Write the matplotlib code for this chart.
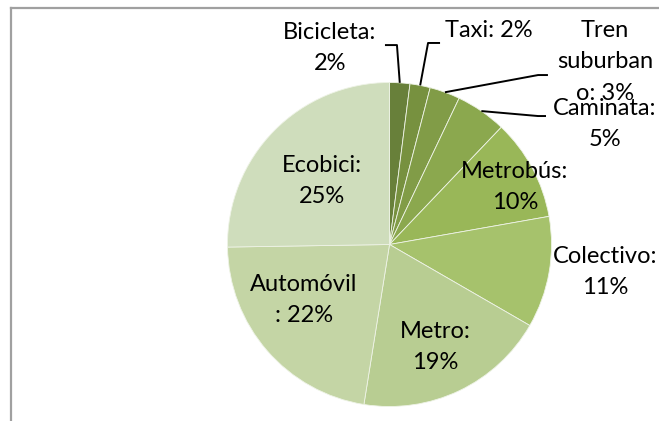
import matplotlib
matplotlib.use("Agg")
import matplotlib.pyplot as plt
from matplotlib.lines import Line2D
import numpy as np

# ---- data ----
categories = ["Bicicleta", "Taxi", "Tren suburbano", "Caminata", "Metrobús",
              "Colectivo", "Metro", "Automóvil", "Ecobici"]
values = [2, 2, 3, 5, 10, 11, 19, 22, 25]
label_texts = ["Bicicleta:\n2%", "Taxi: 2%", "Tren\nsuburban\no: 3%", "Caminata:\n5%",
               "Metrobús:\n10%", "Colectivo:\n11%", "Metro:\n19%", "Automóvil\n: 22%",
               "Ecobici:\n25%"]

# ---- style / layout ----
colors = ["#68803a", "#77913f", "#819c47", "#8ba84e", "#99b758",
          "#a6c26c", "#b8cd92", "#c4d5a5", "#cfddbc"]
# label centres in pie-radius units relative to the pie centre
label_pos = [(-0.367, 1.213), (0.614, 1.324), (1.330, 1.127), (1.330, 0.744),
             (0.775, 0.355), (1.330, -0.170), (0.281, -0.633), (-0.528, -0.343),
             (-0.417, 0.392)]
# leader line elbows (knee, end) for outside labels; None for inside labels
leaders = [((0.046, 1.231), (-0.028, 1.231)),
           ((0.238, 1.244), (0.312, 1.244)),
           ((0.917, 1.046), (0.978, 1.046)),
           ((0.917, 0.793), (0.966, 0.793)),
           None, None, None, None, None]

W, H, DPI = 659, 421, 100
fig = plt.figure(figsize=(W / DPI, H / DPI), dpi=DPI)
ax = fig.add_axes([0, 0, 1, 1])
cx, cy, R = 389.5, 244.5, 162.0
ax.axis("off")

wedges, _ = ax.pie(values, colors=colors, startangle=90, counterclock=False,
                   radius=1.0, center=(0, 0),
                   wedgeprops=dict(edgecolor="#eef3e6", linewidth=0.6))
ax.set_xlim(-cx / R, (W - cx) / R)
ax.set_ylim(-(H - cy) / R, cy / R)
ax.set_aspect("auto")

font = dict(family=["Lato", "DejaVu Sans"], fontsize=17, color="black")
for w, txt, pos, ld in zip(wedges, label_texts, label_pos, leaders):
    ax.text(pos[0], pos[1], txt, ha="center", va="center", multialignment="center",
            linespacing=1.62, **font, zorder=5)
    if ld is not None:
        mid = np.deg2rad((w.theta1 + w.theta2) / 2)
        x0, y0 = np.cos(mid), np.sin(mid)
        ax.plot([x0, ld[0][0], ld[1][0]], [y0, ld[0][1], ld[1][1]],
                color="black", lw=1.4, solid_capstyle="butt", zorder=4)

# chart frame (only top and left edges visible)
fx, fy = 10.5 / W, 1 - 7.5 / H
fig.add_artist(Line2D([fx, 1.0], [fy, fy], transform=fig.transFigure,
                      color="#a0a0a0", lw=1.6))
fig.add_artist(Line2D([fx, fx], [0, fy], transform=fig.transFigure,
                      color="#a0a0a0", lw=1.6))

fig.savefig("out.png", dpi=DPI, facecolor="white")
